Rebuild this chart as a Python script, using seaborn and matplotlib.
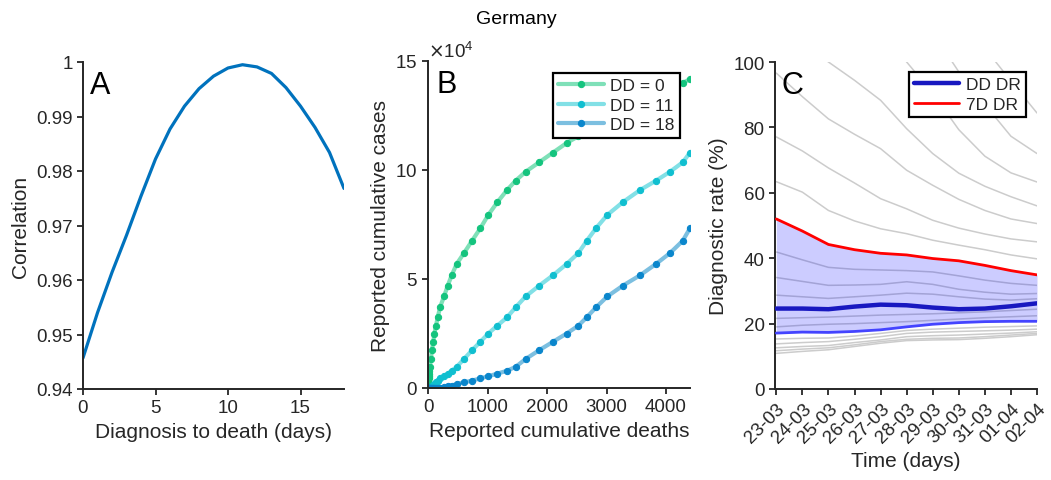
import numpy as np
import pandas as pd
import matplotlib
matplotlib.use('Agg')
import matplotlib.pyplot as plt
import seaborn as sns
from matplotlib.ticker import FuncFormatter

# Panel A: correlation vs diagnosis-to-death delay
days = list(range(19))
corr = [0.9457, 0.9540, 0.9614, 0.9682, 0.9754, 0.9822, 0.9877, 0.9919, 0.9951, 0.9974,
        0.9989, 0.9995, 0.9991, 0.9979, 0.9953, 0.9919, 0.9880, 0.9834, 0.9768]

# Panel B: cumulative deaths vs cumulative cases (shifted by DD days)
deaths = [0, 0, 0, 1, 2, 3, 4, 6, 9, 12, 16, 24, 33, 48, 66, 88, 108, 134, 163, 202,
          269, 331, 398, 482, 605, 739, 880, 1014, 1165, 1328, 1473, 1641, 1866, 2101, 2331,
          2527, 2667, 2824, 3014, 3272, 3563, 3832, 4067, 4280, 4403]
cases_dd0 = [100, 200, 400, 800, 1100, 1800, 2600, 3400, 4400, 5400, 6600, 7900, 9700, 13300,
             17300, 21200, 25000, 28600, 32400, 37000, 42000, 46900, 51700, 56900, 61900, 67500,
             73300, 79400, 85200, 90800, 95100, 99200, 103500, 108000, 112400, 115500, 118000,
             121000, 124500, 128000, 131500, 135000, 137500, 139900, 141700]
cases_dd11 = [10, 12, 14, 16, 20, 26, 35, 48, 60, 75, 90, 100, 200, 400, 800, 1100, 1800, 2600,
              3400, 4400, 5400, 6600, 7900, 9700, 13300, 17300, 21200, 25000, 28600, 32400, 37000,
              42000, 46900, 51700, 56900, 61900, 67500, 73300, 79400, 85200, 90800, 95100, 99200,
              103500, 108000]
cases_dd18 = [5, 5, 6, 7, 8, 9, 10, 10, 11, 12, 14, 16, 18, 22, 28, 40, 55, 75, 100, 200, 400,
              800, 1100, 1800, 2600, 3400, 4400, 5400, 6600, 7900, 9700, 13300, 17300, 21200,
              25000, 28600, 32400, 37000, 42000, 46900, 51700, 56900, 61900, 67500, 73300]

# Panel C: diagnostic rate over time
dates = ['23-03', '24-03', '25-03', '26-03', '27-03', '28-03', '29-03', '30-03', '31-03', '01-04', '02-04']
dr_7d = [52.0, 48.3, 44.2, 42.6, 41.5, 41.0, 39.9, 39.2, 37.8, 36.2, 34.9]
dr_dd = [24.6, 24.6, 24.4, 25.2, 25.8, 25.6, 24.9, 24.4, 24.6, 25.3, 26.2]
dr_low = [17.1, 17.4, 17.3, 17.6, 18.1, 19.0, 19.8, 20.3, 20.6, 20.7, 20.7]
nan = np.nan
gray_curves = [
    [nan, nan, nan, nan, nan, nan, nan, nan, 104.2, 94.2, 84.4],
    [nan, nan, nan, nan, nan, nan, 109.0, 97.0, 87.0, 77.3, 72.0],
    [nan, nan, nan, nan, 110.0, 100.0, 90.5, 79.3, 71.2, 66.1, 63.3],
    [nan, 106.0, 100.0, 94.4, 88.3, 79.6, 72.0, 66.0, 62.0, 58.8, 56.0],
    [96.6, 89.4, 82.6, 77.9, 73.5, 66.9, 62.3, 58.0, 54.6, 52.0, 50.6],
    [77.1, 72.8, 67.6, 63.0, 58.2, 55.1, 51.6, 49.2, 47.4, 45.9, 45.0],
    [63.4, 60.2, 54.6, 51.4, 49.0, 47.5, 45.5, 44.0, 42.6, 41.0, 39.8],
    [41.9, 39.5, 37.2, 36.6, 36.4, 36.2, 35.8, 34.6, 33.3, 32.3, 31.7],
    [34.1, 32.9, 31.7, 31.8, 32.0, 32.8, 32.0, 30.5, 29.6, 29.0, 29.2],
    [28.7, 28.2, 27.7, 28.2, 28.7, 29.3, 29.0, 28.2, 27.5, 27.2, 27.6],
    [21.6, 21.8, 22.0, 22.3, 22.6, 22.8, 23.0, 23.3, 23.6, 24.0, 24.4],
    [19.0, 19.5, 19.8, 20.0, 20.3, 20.6, 21.0, 21.4, 21.8, 22.1, 22.4],
    [15.3, 15.5, 15.6, 16.2, 17.0, 17.9, 18.3, 18.6, 18.9, 19.1, 19.3],
    [13.8, 14.2, 14.5, 15.2, 16.0, 17.0, 17.4, 17.6, 17.8, 18.0, 18.3],
    [12.6, 13.0, 13.3, 14.2, 15.0, 16.0, 16.3, 16.5, 16.8, 17.1, 17.5],
    [11.7, 12.2, 12.6, 13.5, 14.5, 15.2, 15.5, 15.6, 16.0, 16.5, 17.0],
    [10.9, 11.5, 12.0, 13.0, 14.0, 14.8, 15.0, 15.1, 15.5, 16.0, 16.6],
]

sns.set_style('ticks')
plt.rcParams['font.family'] = ['Liberation Sans', 'DejaVu Sans']
dark = '#262626'
plt.rcParams.update({
    'axes.edgecolor': dark, 'axes.linewidth': 1.4, 'axes.labelcolor': dark,
    'xtick.color': dark, 'ytick.color': dark,
    'xtick.major.size': 4, 'ytick.major.size': 4,
    'xtick.major.width': 1.3, 'ytick.major.width': 1.3,
    'xtick.direction': 'out', 'ytick.direction': 'out',
    'xtick.labelsize': 13.5, 'ytick.labelsize': 13.5, 'axes.labelsize': 15,
})

W, H = 1051, 481
fig = plt.figure(figsize=(W / 100, H / 100), dpi=100)
axA = fig.add_axes([83 / W, (H - 390) / H, 261 / W, 327 / H])
axB = fig.add_axes([428 / W, (H - 389) / H, 262 / W, 327 / H])
axC = fig.add_axes([775 / W, (H - 390) / H, 262 / W, 327 / H])

# ---- A
sns.lineplot(x=days, y=corr, ax=axA, color='#0072BD', linewidth=2.3)
axA.set_xlim(0, 18)
axA.set_ylim(0.94, 1.0)
axA.set_xticks([0, 5, 10, 15])
axA.set_yticks([0.94, 0.95, 0.96, 0.97, 0.98, 0.99, 1.0])
axA.yaxis.set_major_formatter(FuncFormatter(lambda v, p: '{:g}'.format(round(v, 2))))
axA.set_xlabel('Diagnosis to death (days)')
axA.set_ylabel('Correlation')

# ---- B
series = [('DD = 0', cases_dd0, '#7fe0b8', '#14c47e'),
          ('DD = 11', cases_dd11, '#82e0e6', '#10bfd0'),
          ('DD = 18', cases_dd18, '#7cbfe0', '#0a86cc')]
for lab, cases, lc, mc in series:
    sns.lineplot(x=deaths, y=cases, ax=axB, estimator=None, sort=False, color=lc,
                 linewidth=3, marker='o', markersize=4.5, markerfacecolor=mc,
                 markeredgecolor=mc, label=lab)
axB.set_xlim(0, 4403)
axB.set_ylim(0, 150000)
axB.set_xticks([0, 1000, 2000, 3000, 4000])
axB.set_yticks([0, 50000, 100000, 150000])
axB.ticklabel_format(axis='y', style='sci', scilimits=(4, 4), useMathText=True)
axB.yaxis.get_offset_text().set_fontsize(13.5)
axB.set_xlabel('Reported cumulative deaths')
axB.set_ylabel('Reported cumulative cases')
leg = axB.legend(loc='upper right', bbox_to_anchor=(0.962, 0.963), borderaxespad=0,
                 fontsize=12.5, frameon=True, fancybox=False, framealpha=1,
                 edgecolor='black', handlelength=2.6, borderpad=0.3, labelspacing=0.25,
                 handletextpad=0.4)
leg.get_frame().set_linewidth(1.6)

# ---- C
xs = np.arange(len(dates))
for g in gray_curves:
    sns.lineplot(x=xs, y=g, ax=axC, color='#cccccc', linewidth=1.1, estimator=None, zorder=1)
axC.fill_between(xs, dr_low, dr_7d, color=(0, 0, 1), alpha=0.2, linewidth=0, zorder=2)
sns.lineplot(x=xs, y=dr_low, ax=axC, color='#4444ff', linewidth=2, zorder=3)
sns.lineplot(x=xs, y=dr_dd, ax=axC, color='#1818c0', linewidth=3.2, zorder=4, label='DD DR')
sns.lineplot(x=xs, y=dr_7d, ax=axC, color='#ff0000', linewidth=2, zorder=4, label='7D DR')
axC.set_xlim(-0.05, 10)
axC.set_ylim(0, 100)
axC.set_yticks([0, 20, 40, 60, 80, 100])
axC.set_xticks(xs)
axC.set_xticklabels(dates, rotation=45, ha='right', rotation_mode='anchor')
axC.set_xlabel('Time (days)')
axC.set_ylabel('Diagnostic rate (%)')
leg = axC.legend(loc='upper right', bbox_to_anchor=(0.958, 0.969), borderaxespad=0,
                 fontsize=12.5, frameon=True, fancybox=False, framealpha=1,
                 edgecolor='black', handlelength=2.6, borderpad=0.3, labelspacing=0.25,
                 handletextpad=0.4)
leg.get_frame().set_linewidth(1.6)

for ax, letter, xo in [(axA, 'A', 0.025), (axB, 'B', 0.032), (axC, 'C', 0.025)]:
    sns.despine(ax=ax)
    ax.text(xo, 0.975, letter, transform=ax.transAxes, ha='left', va='top', fontsize=22,
            color='black')

fig.text(516 / W, 1 - 19 / H, 'Germany', ha='center', va='center', fontsize=14, color='black')

fig.savefig('out.png', dpi=100)
